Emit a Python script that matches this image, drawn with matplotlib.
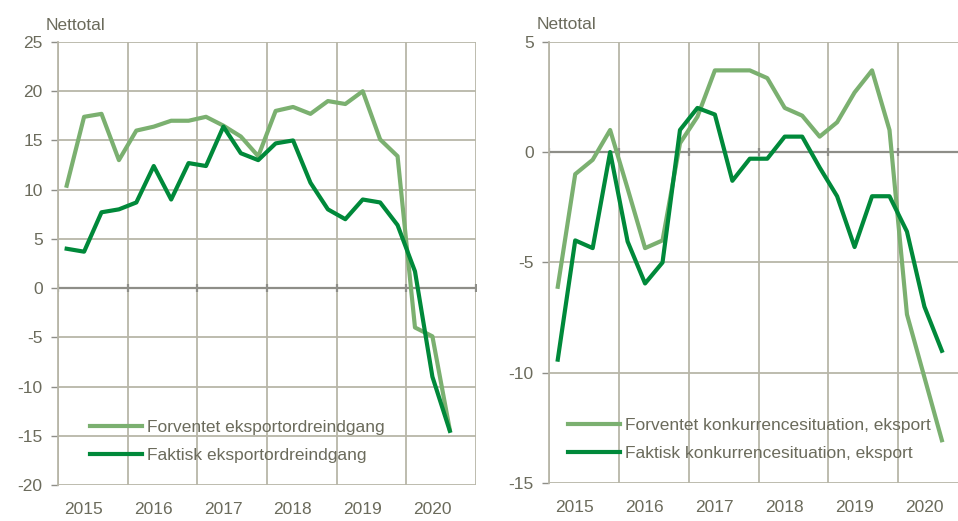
"""Eksportordreindgang og konkurrencesituation - two panel line chart."""

import matplotlib
matplotlib.use("Agg")
import matplotlib.pyplot as plt
import numpy as np

plt.rcParams["font.family"] = ["Liberation Sans", "DejaVu Sans"]

# ---- data (quarterly, 2015Q1 - 2020Q3) ----
quarters = np.arange(2015, 2020.75, 0.25) + 0.125
years = np.arange(2015, 2022)
year_labels = ["2015", "2016", "2017", "2018", "2019", "2020"]

forventet_ordre = [10.4, 17.4, 17.7, 13.0, 16.0, 16.4, 17.0, 17.0, 17.4, 16.5,
                   15.4, 13.4, 18.0, 18.4, 17.7, 19.0, 18.7, 20.0, 15.1, 13.4,
                   -4.0, -4.9, -14.4]
faktisk_ordre = [4.0, 3.7, 7.7, 8.0, 8.7, 12.4, 9.0, 12.7, 12.4, 16.4,
                 13.7, 13.0, 14.7, 15.0, 10.7, 8.0, 7.0, 9.0, 8.7, 6.4,
                 1.7, -9.0, -14.5]

forventet_konk = [-6.1, -1.0, -0.35, 1.0, -1.65, -4.35, -4.0, 0.4, 1.6, 3.7,
                  3.7, 3.7, 3.35, 2.0, 1.65, 0.7, 1.35, 2.7, 3.7, 1.0,
                  -7.35, -10.2, -13.05]
faktisk_konk = [-9.4, -4.0, -4.35, 0.0, -4.05, -5.95, -5.0, 1.0, 2.0, 1.7,
                -1.3, -0.3, -0.3, 0.7, 0.7, -0.7, -2.0, -4.3, -2.0, -2.0,
                -3.6, -7.0, -9.0]

LIGHT = "#7bb070"
DARK = "#00893a"
GRID = "#b8b6a8"
ZERO = "#8e8e88"
TEXT = "#6b6b5c"
FS = 12.5


def style_panel(ax, ylim, yticks, xmax):
    ax.set_xlim(2015, xmax)
    ax.set_ylim(*ylim)
    ax.set_yticks(yticks)
    ax.set_yticklabels([str(v) for v in yticks])
    ax.set_xticks(years)
    ax.set_xticklabels([])
    ax.set_xticks(np.arange(2015, 2021) + 0.37, minor=True)
    ax.set_xticklabels(year_labels, minor=True)
    ax.tick_params(axis="x", which="both", length=0, pad=12,
                   labelsize=FS, labelcolor=TEXT)
    ax.tick_params(axis="y", length=5, width=1, color=ZERO, pad=6,
                   labelsize=FS, labelcolor=TEXT)
    ax.grid(True, which="major", color=GRID, linewidth=1.3)
    for side in ("top", "right", "bottom"):
        ax.spines[side].set_visible(False)
    ax.spines["left"].set_color(GRID)
    ax.spines["left"].set_linewidth(1.3)
    ax.axhline(0, color=ZERO, linewidth=1.6, zorder=2)
    ax.plot(years, np.zeros(len(years)), linestyle="none", marker="|",
            markersize=6, markeredgewidth=1.6, color=ZERO, zorder=2)
    ax.set_axisbelow(True)
    ax.text(-0.03, 1.028, "Nettotal", transform=ax.transAxes,
            fontsize=FS, color=TEXT, ha="left", va="baseline")


fig = plt.figure(figsize=(9.58, 5.21), dpi=100)
ax1 = fig.add_axes([0.0605, 0.0691, 0.4363, 0.8503])
ax2 = fig.add_axes([0.5731, 0.0724, 0.4374, 0.8476])

style_panel(ax1, (-20, 25), list(range(-20, 30, 5)), 2021)
ax1.plot(quarters, forventet_ordre, color=LIGHT, linewidth=3.0,
         label="Forventet eksportordreindgang", zorder=3)
ax1.plot(quarters, faktisk_ordre, color=DARK, linewidth=3.0,
         label="Faktisk eksportordreindgang", zorder=4)

style_panel(ax2, (-15, 5), [-15, -10, -5, 0, 5], 2021)
ax2.plot(quarters, forventet_konk, color=LIGHT, linewidth=3.0,
         label="Forventet konkurrencesituation, eksport", zorder=3)
ax2.plot(quarters, faktisk_konk, color=DARK, linewidth=3.0,
         label="Faktisk konkurrencesituation, eksport", zorder=4)

for ax, x0 in ((ax1, 0.077), (ax2, 0.045)):
    leg = ax.legend(loc="upper left", bbox_to_anchor=(x0, 0.148),
                    frameon=False, fontsize=FS, handlelength=3.0,
                    handletextpad=0.3, labelspacing=0.75, borderpad=0,
                    borderaxespad=0)
    for t in leg.get_texts():
        t.set_color(TEXT)

fig.savefig("out.png", dpi=100)
